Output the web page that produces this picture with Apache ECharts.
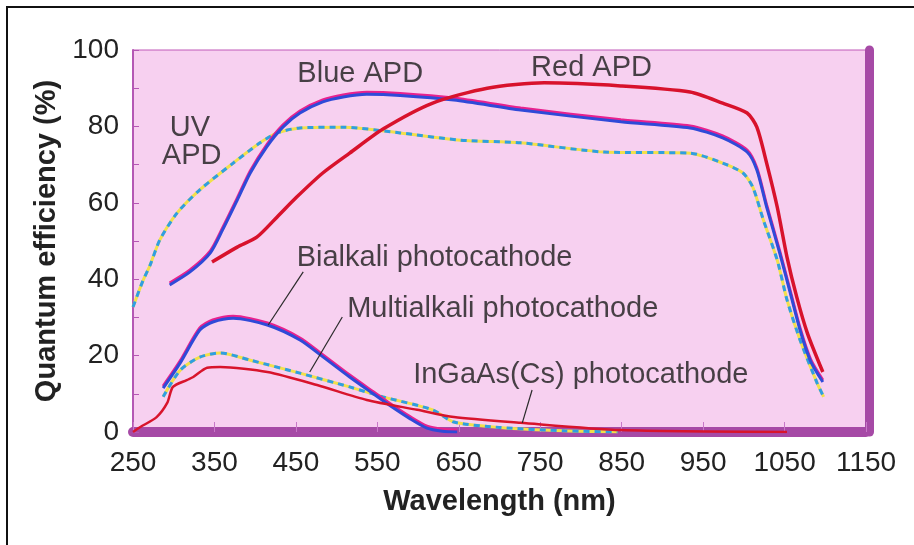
<!DOCTYPE html>
<html>
<head>
<meta charset="utf-8">
<script src="https://cdn.jsdelivr.net/npm/echarts@6/dist/echarts.min.js"></script>
<style>
  html, body { margin: 0; padding: 0; background: #fff; }
  #chart { width: 914px; height: 545px; }
</style>
</head>
<body>
<div id="chart"></div>
<script>
// curves: [wavelength nm, QE %]
const blueApd = [[295, 38.5], [320, 41.9], [345, 46.9], [360, 52.9], [378, 60.7], [394, 67.8], [414, 74.6], [434, 79.8],
  [455, 83.5], [483, 86.4], [508, 87.7], [537, 88.4], [578, 88.1], [644, 86.9], [726, 84.3], [849, 81.2], [934, 79.6],
  [974, 77], [1004, 73.3], [1016, 68.6], [1028, 58.9], [1044, 46.9], [1057, 36.4], [1069, 26.7], [1082, 18.5], [1097, 13.1]];
const redApd = [[347, 44.5], [378, 48.4], [402, 51], [427, 56.3], [451, 61.5], [483, 67.8], [516, 73], [557, 79.3],
  [618, 86.1], [685, 90], [755, 91.4], [849, 90.6], [934, 89], [974, 86.1], [1004, 83.5], [1016, 79.8], [1028, 70.4],
  [1041, 58.9], [1053, 45.8], [1065, 35.3], [1078, 25.9], [1097, 15.7]];
const uvApd = [[250, 32.7], [262, 39.5], [271, 43.7], [283, 50.3], [304, 57.3], [332, 63.4], [373, 70.4], [406, 75.7],
  [427, 78.3], [455, 79.6], [508, 79.8], [578, 78.3], [652, 76.4], [726, 75.7], [828, 73.3], [934, 73], [974, 70.4],
  [999, 67.8], [1011, 64.1], [1024, 55.5], [1041, 45], [1053, 34.6], [1069, 24.1], [1090, 12.8], [1098, 9.2]];
const bialkali = [[287, 11.5], [308, 18.1], [332, 26.7], [348, 28.8], [373, 29.8], [415, 28], [455, 24.1], [480, 20.2],
  [516, 14.4], [545, 10], [565, 7], [590, 3.5], [611, 1], [630, 0.2], [648, 0]];
const multialkali = [[287, 9.2], [308, 16.2], [332, 19.6], [357, 20.7], [394, 18.8], [455, 15.4], [516, 11.8],
  [557, 9.2], [618, 5.8], [644, 2.6], [700, 1.2], [780, 0.3], [845, 0]];
const ingaas = [[250, 0], [259, 1.3], [279, 3.9], [292, 7.6], [299, 11.8], [316, 13.6], [324, 14.4], [341, 16.8],
  [357, 17], [415, 15.7], [476, 12.3], [537, 8.4], [599, 5.8], [644, 3.9], [726, 2.4], [849, 0.5], [1053, 0]];

// annotation texts, anchors (data coords) and leader lines
const labelTexts = ['UV', 'APD', 'Blue APD', 'Red APD', 'Bialkali photocathode', 'Multialkali photocathode', 'InGaAs(Cs) photocathode'];
const labelAnchors = [[320, 79.6], [322, 72.3], [529, 93.7], [813, 95.3], [451, 45.5], [513, 32.2], [594, 14.8]];
const labelAligns = ['center', 'center', 'center', 'center', 'left', 'left', 'left'];
const leaderBialkali = [[459, 41.9], [416, 28]];
const leaderMultialkali = [[507, 30.1], [467, 15.7]];
const leaderIngaas = [[740, 11], [728, 2.4]];

const xTicks = { min: 250, max: 1150, step: 100 };
const yTicks = { min: 0, max: 100, step: 20 };

const FONT = '"Liberation Sans", Arial, Helvetica, sans-serif';
const PURPLE = '#a64aa6';
const SMOOTH = 0.25;

const chart = echarts.init(document.getElementById('chart'), null, { renderer: 'canvas' });

function solid(name, data, color, width, shadow) {
  return {
    name, type: 'line', data, smooth: SMOOTH, showSymbol: false, silent: true,
    lineStyle: {
      color, width,
      shadowColor: shadow, shadowBlur: 0, shadowOffsetY: shadow ? -2 : 0,
    },
  };
}

function dotted(name, data) {
  return [
    { name, type: 'line', data, smooth: SMOOTH, showSymbol: false, silent: true,
      lineStyle: { color: '#f2e04a', width: 3 } },
    { name, type: 'line', data, smooth: SMOOTH, showSymbol: false, silent: true,
      lineStyle: { color: '#2f9ee2', width: 3, type: [6, 5] } },
  ];
}

function leader(data) {
  return { type: 'line', data, showSymbol: false, silent: true, lineStyle: { color: '#2a2a2a', width: 1.2 } };
}

const option = {
  animation: false,
  grid: {
    left: 133, right: 48, top: 50, bottom: 113,
    show: true, backgroundColor: '#f7d0f0', borderColor: '#c058b8', borderWidth: 1,
  },
  xAxis: {
    type: 'value', min: xTicks.min, max: xTicks.max, interval: xTicks.step, offset: 5,
    axisLine: { lineStyle: { color: PURPLE, width: 10 } },
    axisTick: { inside: true, length: 10, lineStyle: { color: '#c878c8', width: 1 } },
    axisLabel: {
      fontFamily: FONT, fontSize: 28, color: '#222', margin: 12, showMinLabel: true, showMaxLabel: true,
      formatter: (v) => String(v),
    },
    splitLine: { show: false },
    name: 'Wavelength (nm)', nameLocation: 'middle', nameGap: 50,
    nameTextStyle: { fontFamily: FONT, fontSize: 29, fontWeight: 'bold', color: '#222' },
  },
  yAxis: [{
    type: 'value', min: yTicks.min, max: yTicks.max, interval: yTicks.step,
    axisLine: { show: true, lineStyle: { color: '#b458b4', width: 2 } },
    axisTick: { show: true, inside: true, length: 6, lineStyle: { color: '#b458b4' } },
    minorTick: { show: true, splitNumber: 2, length: 6, lineStyle: { color: '#b458b4' } },
    axisLabel: { fontFamily: FONT, fontSize: 28, color: '#222', margin: 14 },
    splitLine: { show: false },
    name: 'Quantum efficiency (%)', nameLocation: 'middle', nameGap: 72, nameRotate: 90,
    nameTextStyle: { fontFamily: FONT, fontSize: 29, fontWeight: 'bold', color: '#222' },
  }, {
    type: 'value', position: 'right', min: yTicks.min, max: yTicks.max, offset: 3,
    axisLine: { show: true, lineStyle: { color: PURPLE, width: 9 } },
    axisTick: { show: false }, axisLabel: { show: false }, splitLine: { show: false },
  }],
  series: [
    ...dotted('UV APD', uvApd),
    ...dotted('Multialkali photocathode', multialkali),
    solid('Bialkali photocathode', bialkali, '#2f4ad8', 3, '#e8228e'),
    solid('InGaAs(Cs) photocathode', ingaas, '#d8142c', 2.5, null),
    solid('Blue APD', blueApd, '#2f4ad8', 3, '#e8228e'),
    solid('Red APD', redApd, '#d8122c', 3.5, null),
    leader(leaderBialkali),
    leader(leaderMultialkali),
    leader(leaderIngaas),
    {
      type: 'scatter', silent: true, symbolSize: 1, itemStyle: { color: 'rgba(0,0,0,0)' },
      data: labelTexts.map((t, i) => ({
        value: labelAnchors[i],
        label: { formatter: t, align: labelAligns[i] },
      })),
      label: {
        show: true, position: 'inside', verticalAlign: 'middle',
        fontFamily: FONT, fontSize: 29, color: '#1a1a1a',
      },
      z: 10,
    },
  ],
  graphic: [{
    type: 'rect', silent: true, z: 100,
    shape: { x: 7, y: 7, width: 1000, height: 1000 },
    style: { fill: 'none', stroke: '#111', lineWidth: 2 },
  }],
};

chart.setOption(option);
</script>
</body>
</html>
